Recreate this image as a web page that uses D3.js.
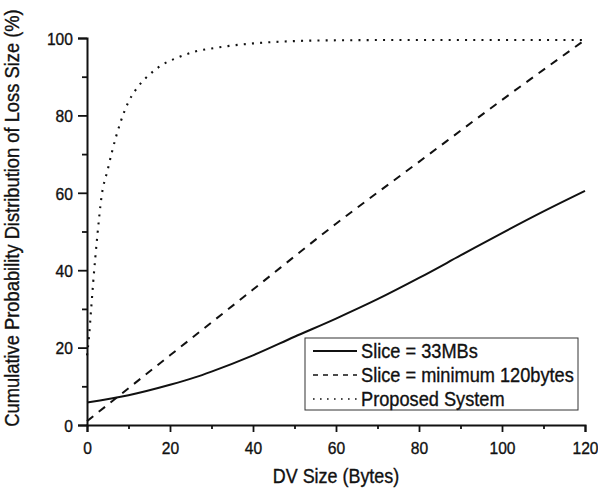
<!DOCTYPE html>
<html>
<head>
<meta charset="utf-8">
<script src="https://cdn.jsdelivr.net/npm/d3@7"></script>
<style>
  body { margin: 0; background: #fff; }
  text { font-family: "Liberation Sans", Arial, Helvetica, sans-serif; fill: #111; stroke: #111; stroke-width: 0.35px; }
</style>
</head>
<body>
<div id="chart"></div>
<script>
'use strict'

var W = 598, H = 488;

// series
var xSolid = [0, 10, 20, 26, 30, 40, 50, 60, 70, 80, 90, 100, 110, 120];
var ySolid = [5.8, 7.7, 10.4, 12.3, 13.8, 18, 22.8, 27.5, 32.5, 38, 43.8, 49.6, 55.2, 60.5];

var xDash = [0, 20, 40, 60, 80, 100, 120];
var yDash = [1, 18, 35, 52, 68, 84, 99.5];

var xDot = [0, 0.5, 1, 1.5, 2.5, 3.5, 5, 6, 8, 10, 12, 15, 18, 22, 26, 30, 40, 50, 60, 80, 100, 120];
var yDot = [18, 23, 30, 37, 49, 59, 66, 70.5, 78, 83.5, 87, 90.5, 93, 95, 96.5, 97.3, 98.6, 99.2, 99.4, 99.5, 99.5, 99.5];

var xTicks = [0, 20, 40, 60, 80, 100, 120];
var yTicks = [0, 20, 40, 60, 80, 100];
var legendLabels = ["Slice = 33MBs", "Slice = minimum 120bytes", "Proposed System"];

var xTitle = "DV Size (Bytes)";
var yTitle = "Cumulative Probability Distribution of Loss Size (%)";

var x = d3.scaleLinear().domain([0, 120]).range([87, 585]);
var y = d3.scaleLinear().domain([0, 100]).range([425, 38]);

var svg = d3.select("#chart").append("svg").attr("width", W).attr("height", H);

// lines
var line = d3.line()
    .x(function(d) { return x(d[0]); })
    .y(function(d) { return y(d[1]); })
    .curve(d3.curveMonotoneX);

var zip = function(a, b) {
    return a.map(function(v, i) { return [v, b[i]]; });
};

var series = [
    { pts: zip(xSolid, ySolid), dash: null, width: 2, lgWidth: 1.8, lgDash: null },
    { pts: zip(xDash, yDash), dash: "8,7", width: 2, lgWidth: 1.4, lgDash: "5,5" },
    { pts: zip(xDot, yDot), dash: "2,6.2", width: 2.1, lgWidth: 1.4, lgDash: "1.6,5.4" }
];

series.forEach(function(s) {
    svg.append("path")
        .attr("d", line(s.pts))
        .attr("fill", "none")
        .attr("stroke", "#111")
        .attr("stroke-width", s.width)
        .attr("stroke-dasharray", s.dash);
});

// axes: major ticks labelled, minor ticks in between
var xAxis = d3.axisBottom(x).tickValues(xTicks).tickSize(7).tickFormat(d3.format("d"));
var xMinor = d3.axisBottom(x).tickValues(d3.range(10, 120, 20)).tickSize(4).tickFormat("");
var yAxis = d3.axisLeft(y).tickValues(yTicks).tickSize(9).tickFormat(d3.format("d"));
var yMinor = d3.axisLeft(y).tickValues(d3.range(10, 100, 20)).tickSize(5).tickFormat("");

var styleAxis = function(g) {
    g.select(".domain").attr("stroke", "#111").attr("stroke-width", 2);
    g.selectAll(".tick line").attr("stroke", "#111").attr("stroke-width", 1.8);
};

var gx = svg.append("g").attr("transform", "translate(0," + y(0) + ")").call(xAxis).call(styleAxis);
svg.append("g").attr("transform", "translate(0," + y(0) + ")").call(xMinor).call(styleAxis)
    .select(".domain").remove();
var gy = svg.append("g").attr("transform", "translate(" + x(0) + ",0)").call(yAxis).call(styleAxis);
svg.append("g").attr("transform", "translate(" + x(0) + ",0)").call(yMinor).call(styleAxis)
    .select(".domain").remove();

// tick labels, slightly condensed like the original type
gx.selectAll(".tick text")
    .attr("y", null).attr("dy", null)
    .attr("transform", "translate(0,28.5) scale(0.92,1)")
    .style("font-size", "17px").attr("fill", "#111");
gy.selectAll(".tick text")
    .attr("x", null).attr("dy", null)
    .attr("transform", "translate(-14,6.2) scale(0.92,1)")
    .style("font-size", "17px").attr("fill", "#111");
svg.selectAll("g").attr("font-family", null);

// titles
svg.append("text")
    .attr("transform", "translate(336,483) scale(0.92,1)")
    .attr("text-anchor", "middle")
    .style("font-size", "19.5px")
    .text(xTitle);

svg.append("text")
    .attr("transform", "translate(18.5,218) rotate(-90) scale(0.94,1)")
    .attr("text-anchor", "middle")
    .style("font-size", "19.5px")
    .text(yTitle);

// legend
var lg = svg.append("g");
lg.append("rect")
    .attr("x", 305).attr("y", 338)
    .attr("width", 273).attr("height", 72)
    .attr("fill", "#fff")
    .attr("stroke", "#333")
    .attr("stroke-width", 1);

legendLabels.forEach(function(lbl, i) {
    var ry = 351 + i * 24;
    lg.append("line")
        .attr("x1", 313).attr("x2", 357)
        .attr("y1", ry).attr("y2", ry)
        .attr("stroke", "#111")
        .attr("stroke-width", series[i].lgWidth)
        .attr("stroke-dasharray", series[i].lgDash);
    lg.append("text")
        .attr("transform", "translate(361," + (ry + 7) + ") scale(0.91,1)")
        .style("font-size", "20px")
        .text(lbl);
});
</script>
</body>
</html>
